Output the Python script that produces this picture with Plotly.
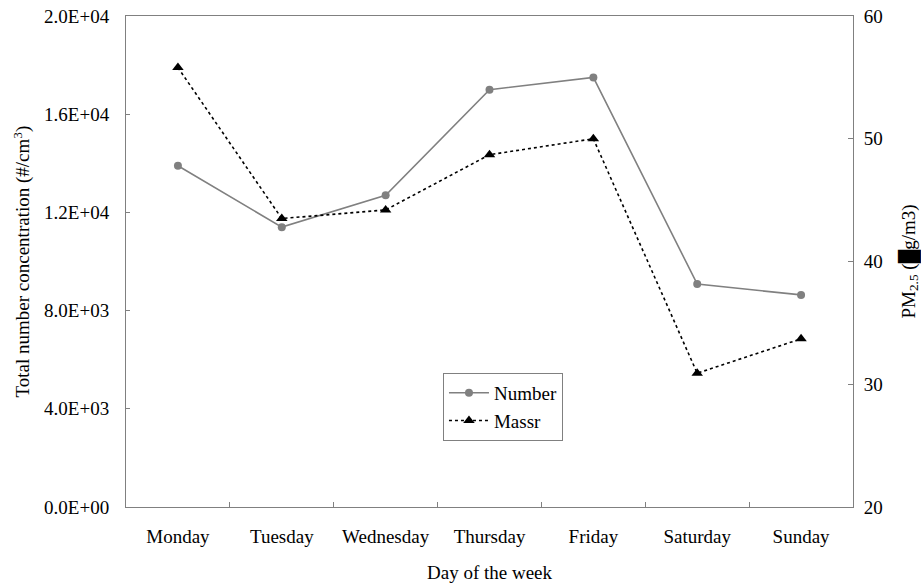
import plotly.graph_objects as go

days = ["Monday", "Tuesday", "Wednesday", "Thursday", "Friday", "Saturday", "Sunday"]
number_conc = [13900, 11400, 12700, 17000, 17500, 9080, 8640]
mass_pm25 = [55.8, 43.5, 44.2, 48.7, 50.0, 30.9, 33.7]
left_ticks = [0, 4000, 8000, 12000, 16000, 20000]
left_ticktext = ["0.0E+00", "4.0E+03", "8.0E+03", "1.2E+04", "1.6E+04", "2.0E+04"]
right_ticks = [20, 30, 40, 50, 60]

FONT = "Liberation Serif"
FS = 19
AX = "#808080"

fig = go.Figure()
fig.add_trace(go.Scatter(
    x=days, y=number_conc, name="Number", mode="lines+markers",
    line=dict(color="#808080", width=1.6),
    marker=dict(symbol="circle", size=8, color="#808080"),
))
fig.add_trace(go.Scatter(
    x=days, y=mass_pm25, name="Massr", mode="lines+markers", yaxis="y2",
    line=dict(color="black", width=1.6, dash="dot"),
    marker=dict(symbol="triangle-up", size=10, color="black"),
))

fig.update_layout(
    width=921, height=586,
    margin=dict(l=126, r=68, t=16, b=79, autoexpand=False),
    paper_bgcolor="white", plot_bgcolor="white",
    font=dict(family=FONT, size=FS, color="black"),
    showlegend=True,
    legend=dict(
        x=0.436, y=0.273, xanchor="left", yanchor="top",
        bgcolor="white", bordercolor=AX, borderwidth=1,
        font=dict(family=FONT, size=FS, color="black"),
        tracegroupgap=0, itemwidth=40,
    ),
    xaxis=dict(
        type="category", range=[-0.5, 6.5], automargin=False,
        showline=True, linecolor=AX, linewidth=1, mirror=True,
        ticks="inside", ticklen=5, tickcolor=AX, tickson="boundaries",
        showgrid=False, zeroline=False,
        ticklabelstandoff=12, ticklabeloverflow="allow",
    ),
    yaxis=dict(
        range=[0, 20000], tickvals=left_ticks, ticktext=left_ticktext, automargin=False,
        showline=True, linecolor=AX, linewidth=1, mirror=True,
        ticks="inside", ticklen=4, tickcolor=AX,
        showgrid=False, zeroline=False,
        ticklabelstandoff=12, ticklabeloverflow="allow",
    ),
    yaxis2=dict(
        range=[20, 60], tickvals=right_ticks, automargin=False,
        overlaying="y", side="right", anchor="x",
        showline=True, linecolor=AX, linewidth=1,
        ticks="inside", ticklen=5, tickcolor=AX,
        showgrid=False, zeroline=False,
        ticklabelstandoff=6, ticklabeloverflow="allow",
    ),
    annotations=[
        dict(text="Day of the week", xref="paper", yref="paper", x=0.5, y=0,
             yshift=-65, xanchor="center", yanchor="middle", showarrow=False,
             font=dict(family=FONT, size=FS, color="black")),
        dict(text="Total number concentration (#/cm<sup>3</sup>)", xref="paper", yref="paper",
             x=0, y=0.5, xshift=-104, textangle=-90, xanchor="center", yanchor="middle",
             showarrow=False, font=dict(family=FONT, size=FS, color="black")),
        dict(text="PM<sub>2.5</sub> (█g/m3)", xref="paper", yref="paper",
             x=1, y=0.5, xshift=56, textangle=-90, xanchor="center", yanchor="middle",
             showarrow=False, font=dict(family=FONT, size=FS, color="black")),
    ],
)

fig.write_html("out.html", config={"displayModeBar": False},
               post_script="document.body.style.margin='0';")
